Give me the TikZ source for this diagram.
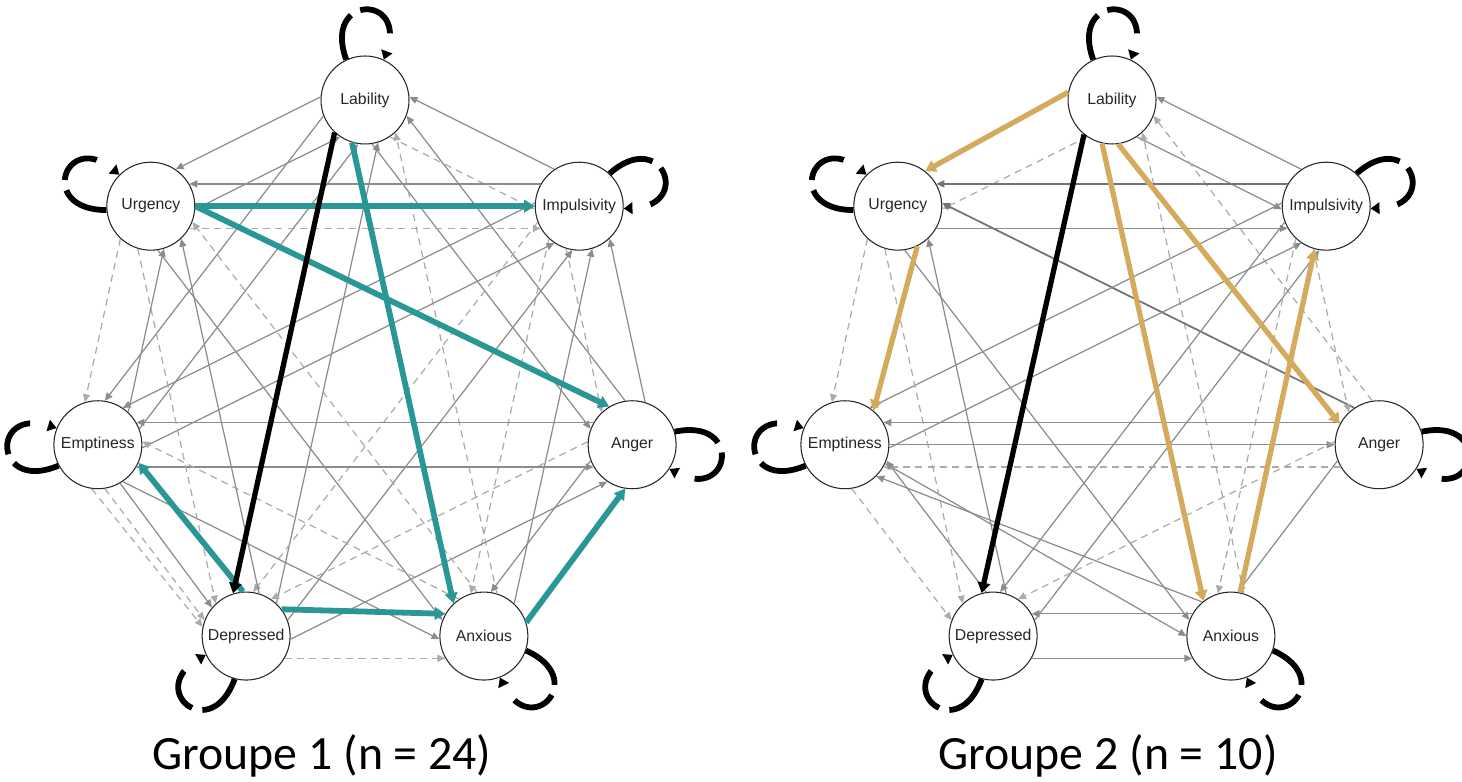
\documentclass[tikz,border=0pt]{standalone}
\usepackage{fontspec}
\setmainfont{Liberation Sans}
\newfontfamily\grpfont{Carlito}
\usetikzlibrary{arrows.meta}
\definecolor{tealedge}{RGB}{42,150,150}
\definecolor{goldedge}{RGB}{212,170,92}
\tikzset{
  emo/.style={circle, draw=black!85, line width=0.6pt, fill=white,
    minimum size=1.76cm, inner sep=0pt, text=black!85,
    font=\fontsize{9}{10}\selectfont},
  gline/.style={draw=black!45, line width=0.7pt,
    -{Triangle[length=4.5pt,width=4pt]}},
  gdash/.style={gline, draw=black!33, dash pattern=on 4pt off 3pt},
  tealline/.style={draw=tealedge, line width=3.3pt,
    -{Triangle[length=6pt,width=7pt]}},
  goldline/.style={draw=goldedge, line width=3pt,
    -{Triangle[length=6pt,width=7pt]}},
  blkline/.style={draw=black, line width=3pt,
    -{Triangle[length=6pt,width=7pt]}},
  selfloop/.style={draw=black, line width=3.3pt,
    dash pattern=on 27pt off 6pt on 25pt off 14pt,
    -{Triangle[length=5pt,width=6.5pt]}},
  grp/.style={font=\grpfont\fontsize{27.2}{31}\selectfont, anchor=base}
}
\begin{document}
\begin{tikzpicture}[x=0.02cm, y=0.02cm]
  \useasboundingbox (0,0) rectangle (1462,781);

  % Groupe 1
  \begin{scope}[shift={(365,399)}, name prefix=a-]
    \draw
      (90:274 and 282) node[emo] (la) {Lability}
      (38.571:274 and 282) node[emo] (im) {Impulsivity}
      (-12.857:274 and 282) node[emo] (an) {Anger}
      (-64.286:274 and 282) node[emo] (ax) {Anxious}
      (-115.714:274 and 282) node[emo] (de) {Depressed}
      (-167.143:274 and 282) node[emo] (em) {Emptiness}
      (141.429:274 and 282) node[emo] (ur) {Urgency};
    \draw[gdash] (la.304) -- (im.184);
    \draw[gline] (im.124) -- (la.4);
    \draw[gline] (la.279) -- (an.159);
    \draw[gline] (an.99) -- (la.339);
    \draw[gdash] (ax.73) -- (la.313);
    \draw[gline] (de.47) -- (la.287);
    \draw[gline] (la.201) -- (em.81);
    \draw[gline] (em.21) -- (la.261);
    \draw[gline] (la.176) -- (ur.56);
    \draw[gline] (ur.356) -- (la.236);
    \draw[gdash] (im.253) -- (an.133);
    \draw[gline] (an.73) -- (im.313);
    \draw[gdash] (im.227) -- (ax.107);
    \draw[gline] (ax.47) -- (im.287);
    \draw[gdash] (im.201) -- (de.81);
    \draw[gline] (de.21) -- (im.261);
    \draw[gline] (im.176) -- (em.56);
    \draw[gline] (em.356) -- (im.236);
    \draw[gline] (im.150) -- (ur.30);
    \draw[gdash] (ur.330) -- (im.210);
    \draw[gline] (an.201) -- (ax.81);
    \draw[gdash] (an.176) -- (de.56);
    \draw[gline] (de.356) -- (an.236);
    \draw[gline] (an.150) -- (em.30);
    \draw[gline] (em.330) -- (an.210);
    \draw[gdash] (de.330) -- (ax.210);
    \draw[gline] (em.304) -- (ax.184);
    \draw[gdash] (ax.124) -- (em.4);
    \draw[gline] (ur.279) -- (ax.159);
    \draw[gdash] (ax.99) -- (ur.339);
    \draw[gdash] (em.279) -- (de.159);
    \draw[gdash] (em.262) -- (de.168);
    \draw[gline] (em.300) -- (de.140);
    \draw[gdash] (ur.253) -- (de.133);
    \draw[gline] (de.73) -- (ur.313);
    \draw[gdash] (ur.227) -- (em.107);
    \draw[gline] (em.47) -- (ur.287);
    % highlighted edges
    \draw[tealline] (ur.0) -- (im.180);
    \draw[tealline] (ur.0) -- (an.121);
    \draw[tealline] (la.253) -- (ax.133);
    \draw[tealline] (de.94) -- (em.336);
    \draw[tealline] (de.37) -- (ax.150);
    \draw[tealline] (ax.18) -- (an.261);
    \draw[blkline] (la.227) -- (de.107);
    % self loops
    \draw[selfloop] (la.115) .. controls +(110:70) and +(70:70) .. (la.65);
    \draw[selfloop] (im.47) .. controls +(42:70) and +(2:70) .. (im.357);
    \draw[selfloop] (an.17) .. controls +(12:70) and +(-28:70) .. (an.327);
    \draw[selfloop] (ax.341) .. controls +(-24:70) and +(-64:70) .. (ax.291);
    \draw[selfloop] (de.255) .. controls +(250:70) and +(210:70) .. (de.205);
    \draw[selfloop] (em.208) .. controls +(203:70) and +(163:70) .. (em.158);
    \draw[selfloop] (ur.185) .. controls +(180:70) and +(140:70) .. (ur.135);
  \end{scope}

  % Groupe 2
  \begin{scope}[shift={(1112,399)}, name prefix=b-]
    \draw
      (90:274 and 282) node[emo] (la) {Lability}
      (38.571:274 and 282) node[emo] (im) {Impulsivity}
      (-12.857:274 and 282) node[emo] (an) {Anger}
      (-64.286:274 and 282) node[emo] (ax) {Anxious}
      (-115.714:274 and 282) node[emo] (de) {Depressed}
      (-167.143:274 and 282) node[emo] (em) {Emptiness}
      (141.429:274 and 282) node[emo] (ur) {Urgency};
    \draw[gline] (im.124) -- (la.4);
    \draw[gline] (la.304) -- (im.184);
    \draw[gdash] (an.99) -- (la.339);
    \draw[gdash] (ax.73) -- (la.313);
    \draw[gdash] (la.236) -- (ur.356);
    \draw[gline, draw=black!55] (im.150) -- (ur.30);
    \draw[gline] (ur.330) -- (im.210);
    \draw[gline, draw=black!55, line width=1pt] (an.124) -- (ur.4);
    \draw[gdash] (im.253) -- (an.133);
    \draw[gline] (de.21) -- (im.261);
    \draw[gline] (em.356) -- (im.236);
    \draw[gline] (im.176) -- (em.56);
    \draw[gdash] (im.227) -- (ax.107);
    \draw[gline] (an.150) -- (em.30);
    \draw[gline] (em.0) -- (an.180);
    \draw[gdash] (an.210) -- (em.330);
    \draw[gline] (an.201) -- (ax.81);
    \draw[gdash] (an.176) -- (de.56);
    \draw[gline] (ax.150) -- (de.30);
    \draw[gline] (de.330) -- (ax.210);
    \draw[gline] (em.335) -- (ax.180);
    \draw[gline] (ax.130) -- (em.315);
    \draw[gline] (ur.279) -- (ax.159);
    \draw[gdash] (em.279) -- (de.159);
    \draw[gline] (de.99) -- (em.339);
    \draw[gdash] (ur.253) -- (de.133);
    \draw[gline] (im.201) -- (de.81);
    \draw[gdash] (ur.227) -- (em.107);
    \draw[gline] (de.73) -- (ur.313);
    % highlighted edges
    \draw[goldline] (la.170) -- (ur.52);
    \draw[goldline] (ur.296) -- (em.50);
    \draw[goldline] (la.257) -- (ax.128);
    \draw[goldline] (la.278) -- (an.152);
    \draw[goldline] (ax.78) -- (im.255);
    \draw[blkline] (la.231) -- (de.105);
    % self loops
    \draw[selfloop] (la.115) .. controls +(110:70) and +(70:70) .. (la.65);
    \draw[selfloop] (im.47) .. controls +(42:70) and +(2:70) .. (im.357);
    \draw[selfloop] (an.17) .. controls +(12:70) and +(-28:70) .. (an.327);
    \draw[selfloop] (ax.341) .. controls +(-24:70) and +(-64:70) .. (ax.291);
    \draw[selfloop] (de.255) .. controls +(250:70) and +(210:70) .. (de.205);
    \draw[selfloop] (em.208) .. controls +(203:70) and +(163:70) .. (em.158);
    \draw[selfloop] (ur.185) .. controls +(180:70) and +(140:70) .. (ur.135);
  \end{scope}

  \node[grp] (t1) at (322,12) {Groupe 1 (n = 24)};
  \node[grp] (t2) at (1108,12) {Groupe 2 (n = 10)};
\end{tikzpicture}
\end{document}
